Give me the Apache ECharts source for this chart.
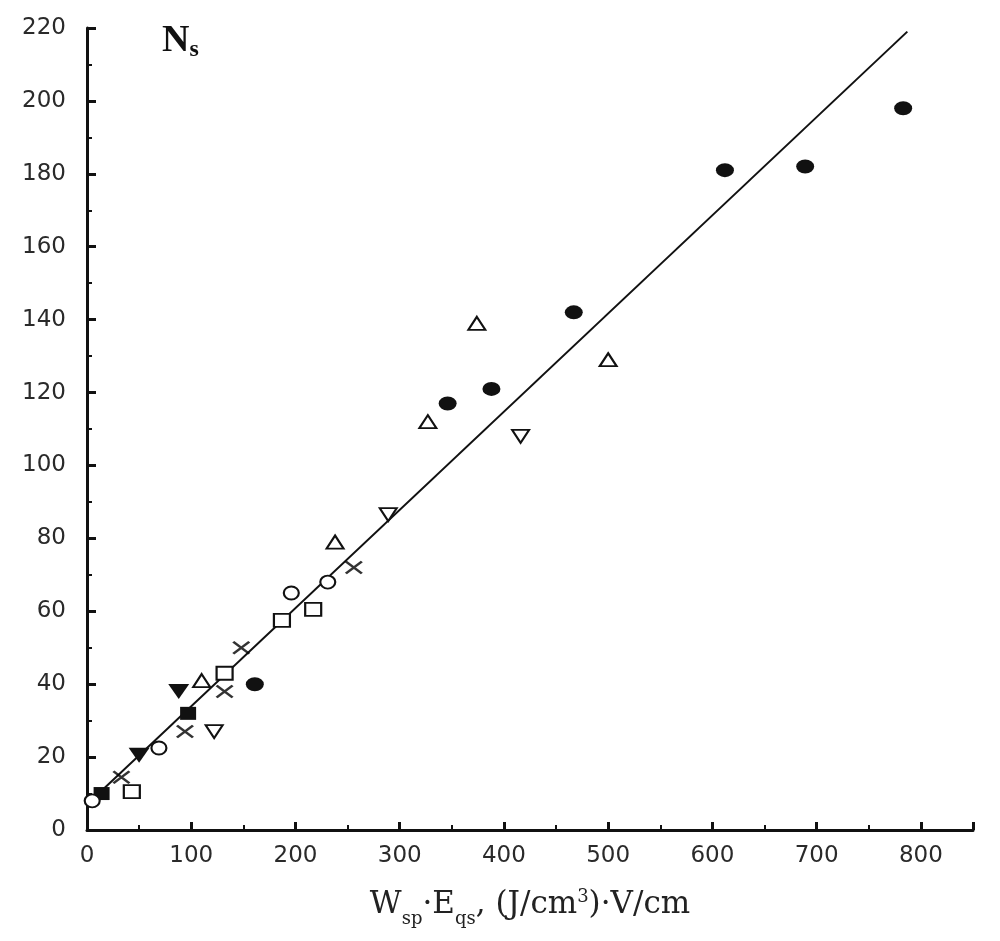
<!DOCTYPE html>
<html>
<head>
<meta charset="utf-8">
<script src="https://cdn.jsdelivr.net/npm/echarts@6/dist/echarts.min.js"></script>
<style>
  html, body { margin: 0; padding: 0; background: #fff; }
  #main { width: 1000px; height: 941px; }
</style>
</head>
<body>
<div id="main"></div>
<script>
// 各组实验点 [x, y]
var filledCircles = [[161, 40], [346, 117], [388, 121], [467, 142], [612, 181], [689, 182], [783, 198]];
var openTrianglesUp = [[110, 41], [238, 79], [327, 112], [374, 139], [500, 129]];
var openTrianglesDown = [[122, 27], [289, 86.5], [416, 108]];
var filledTrianglesDown = [[50, 20.5], [88, 38]];
var filledSquares = [[14, 10], [97, 32]];
var crosses = [[33, 14.5], [94, 27], [132, 38], [148, 50], [256, 72]];
var openCircles = [[5, 8], [69, 22.5], [196, 65], [231, 68]];
var openSquares = [[43, 10.5], [132, 43], [187, 57.5], [217, 60.5]];
// 拟合直线
var fitLine = [[0, 7], [787, 219]];

var xTicks = [0, 100, 200, 300, 400, 500, 600, 700, 800];
var yTicks = [0, 20, 40, 60, 80, 100, 120, 140, 160, 180, 200, 220];

var ink = "#111";

function markSeries(data, symbol, filled, size, rotate) {
  return {
    type: "scatter",
    data: data,
    symbol: symbol,
    symbolSize: size,
    symbolRotate: rotate || 0,
    z: 3,
    itemStyle: {
      color: filled ? ink : "#fff",
      borderColor: ink,
      borderWidth: filled ? 0 : 2,
      opacity: 1
    }
  };
}

var chart = echarts.init(document.getElementById("main"));
var option = {
  animation: false,
  grid: { left: 87, right: 27, top: 28, bottom: 111 },
  xAxis: {
    type: "value",
    min: 0,
    max: 850,
    interval: 100,
    splitLine: { show: false },
    axisLine: { lineStyle: { color: ink, width: 3 } },
    axisTick: { inside: true, length: 8, lineStyle: { color: ink, width: 3 } },
    minorTick: { show: true, splitNumber: 2, length: 5, lineStyle: { color: ink, width: 2 } },
    axisLabel: {
      margin: 15,
      fontFamily: "DejaVu Sans",
      fontSize: 23,
      color: "#2a2a2a",
      formatter: function (v) { return xTicks.indexOf(v) >= 0 ? v : ""; }
    },
    name: "{a|W}{s|sp}{a|·E}{s|qs}{a|, (J/cm}{p|3}{a|)·V/cm}",
    nameLocation: "middle",
    nameGap: 58,
    nameTextStyle: {
      rich: {
        a: { fontFamily: "DejaVu Serif", fontSize: 31, color: "#222", lineHeight: 34, verticalAlign: "middle" },
        s: { fontFamily: "DejaVu Serif", fontSize: 18, color: "#222", lineHeight: 18, verticalAlign: "bottom", padding: [0, 0, -6, 0] },
        p: { fontFamily: "DejaVu Serif", fontSize: 18, color: "#222", lineHeight: 18, verticalAlign: "top" }
      }
    }
  },
  yAxis: {
    type: "value",
    min: 0,
    max: 220,
    interval: 20,
    splitLine: { show: false },
    axisLine: { lineStyle: { color: ink, width: 3 } },
    axisTick: { inside: true, length: 9, lineStyle: { color: ink, width: 3 } },
    minorTick: { show: true, splitNumber: 2, length: 5, lineStyle: { color: ink, width: 2 } },
    axisLabel: {
      margin: 21,
      fontFamily: "DejaVu Sans",
      fontSize: 23,
      color: "#2a2a2a",
      formatter: function (v) { return yTicks.indexOf(v) >= 0 ? v : ""; }
    }
  },
  graphic: [
    {
      type: "text",
      left: 162,
      top: 22,
      style: {
        text: "{n|N}{s|s}",
        rich: {
          n: { fontFamily: "Liberation Serif", fontWeight: "bold", fontSize: 38, fill: "#111", lineHeight: 42, verticalAlign: "middle" },
          s: { fontFamily: "Liberation Serif", fontWeight: "bold", fontSize: 24, fill: "#111", lineHeight: 24, verticalAlign: "bottom" }
        }
      }
    }
  ],
  series: [
    {
      type: "line",
      data: fitLine,
      symbol: "none",
      z: 2,
      lineStyle: { color: ink, width: 2 }
    },
    markSeries(filledCircles, "circle", true, [18, 14]),
    markSeries(openTrianglesUp, "triangle", false, [17, 13]),
    markSeries(openTrianglesDown, "triangle", false, [17, 13], 180),
    markSeries(filledTrianglesDown, "triangle", true, [21, 15], 180),
    markSeries(filledSquares, "rect", true, [16, 13]),
    {
      type: "scatter",
      data: crosses,
      symbol: "path://M0,0L10,8M10,0L0,8",
      symbolSize: [16, 12],
      z: 3,
      itemStyle: { color: "none", borderColor: "#000", borderWidth: 2.5 }
    },
    markSeries(openCircles, "circle", false, [15, 13]),
    markSeries(openSquares, "rect", false, [16, 13])
  ]
};
chart.clear();
chart.setOption(option);
</script>
</body>
</html>
